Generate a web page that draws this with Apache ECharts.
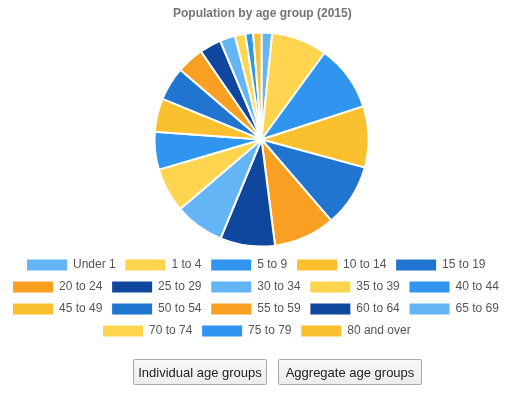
<!DOCTYPE html>
<html>
<head>
<meta charset="utf-8">
<script src="https://cdn.jsdelivr.net/npm/echarts@6/dist/echarts.min.js"></script>
<style>
  html, body { margin: 0; padding: 0; background: #fff; }
  #chart { position: absolute; left: 0; top: 0; width: 516px; height: 396px; }
  .btn {
    position: absolute; top: 359px; height: 26px; box-sizing: border-box;
    font-family: "Liberation Sans", Arial, sans-serif; font-size: 13px; color: #222;
    background: linear-gradient(#f8f8f8, #ececec); border: 1px solid #a8a8a8; border-radius: 2px;
    padding: 0; margin: 0; cursor: pointer;
  }
</style>
</head>
<body>
<div id="chart"></div>
<button class="btn" style="left:133px;width:134px;">Individual age groups</button>
<button class="btn" style="left:278px;width:144px;">Aggregate age groups</button>
<script>
const chartTitle = 'Population by age group (2015)';
const ageGroups = ['Under 1', '1 to 4', '5 to 9', '10 to 14', '15 to 19', '20 to 24', '25 to 29',
  '30 to 34', '35 to 39', '40 to 44', '45 to 49', '50 to 54', '55 to 59', '60 to 64',
  '65 to 69', '70 to 74', '75 to 79', '80 and over'];
const populationShare = [1.61, 8.42, 9.97, 9.25, 9.47, 9.28, 8.28, 7.5, 6.72, 5.69,
  5.06, 5.08, 4.14, 3.28, 2.31, 1.58, 1.17, 1.25];
const palette = ['#64B5F6', '#FFD54F', '#2F95EE', '#FBC02D', '#1F75D0', '#F9A023', '#0F479E'];
const legendRows = [ageGroups.slice(0, 5), ageGroups.slice(5, 10), ageGroups.slice(10, 15), ageGroups.slice(15)];
const legendLefts = [27, 13, 13, 103];
const legendTops = [259, 281, 303, 325];

const chart = echarts.init(document.getElementById('chart'));
const font = '"Liberation Sans", Arial, sans-serif';
chart.setOption({
  animation: false,
  color: palette,
  title: {
    text: chartTitle, left: 173, top: 8, padding: 0,
    textStyle: { fontFamily: font, fontSize: 12, fontWeight: 'bold', color: '#757575' }
  },
  legend: legendRows.map((row, i) => ({
    data: row, orient: 'horizontal', left: legendLefts[i], top: legendTops[i], padding: 0,
    itemWidth: 40, itemHeight: 11, itemGap: 9.75, icon: 'rect', selectedMode: false,
    itemStyle: { borderWidth: 0 },
    textStyle: { fontFamily: font, fontSize: 12, color: '#555', padding: [0, 0, 0, 1] }
  })),
  series: [{
    type: 'pie',
    center: [261.5, 139.5],
    radius: [0, 107],
    startAngle: 90,
    clockwise: true,
    label: { show: false },
    labelLine: { show: false },
    emphasis: { disabled: true },
    itemStyle: { borderColor: '#fff', borderWidth: 2 },
    data: ageGroups.map((n, i) => ({ name: n, value: populationShare[i] }))
  }]
});
</script>
</body>
</html>
